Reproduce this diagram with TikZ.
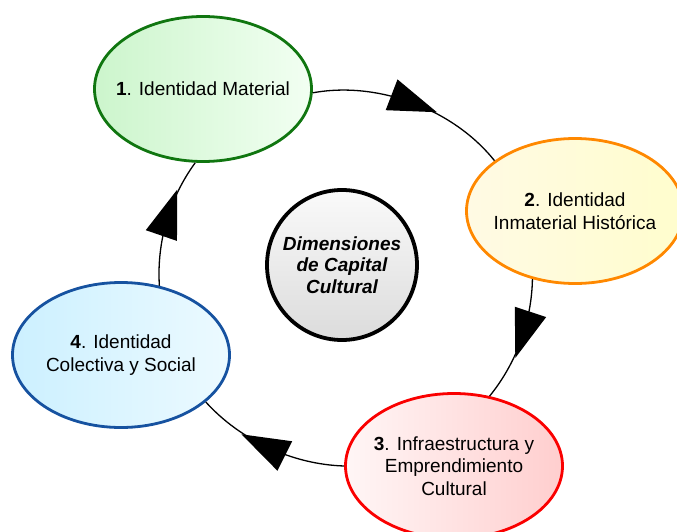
\documentclass[tikz,border=0pt]{standalone}
\usepackage{fontspec}
\setmainfont{Liberation Sans}
\usetikzlibrary{shapes,positioning,decorations.markings}

\definecolor{matline}{RGB}{16,118,16}
\definecolor{matfillA}{RGB}{204,245,204}
\definecolor{matfillB}{RGB}{242,255,242}
\definecolor{inmline}{RGB}{255,136,0}
\definecolor{inmfillA}{RGB}{255,250,228}
\definecolor{inmfillB}{RGB}{255,253,205}
\definecolor{infline}{RGB}{250,0,0}
\definecolor{inffillA}{RGB}{255,246,246}
\definecolor{inffillB}{RGB}{255,206,206}
\definecolor{colline}{RGB}{22,82,160}
\definecolor{colfillA}{RGB}{204,240,255}
\definecolor{colfillB}{RGB}{236,250,255}

\tikzset{
  dimension/.style={ellipse, draw, line width=2.8pt, minimum width=217pt,
                    minimum height=145pt, inner xsep=-16pt, inner ysep=0pt,
                    align=center},
  cycle arrow/.style={line width=1.3pt, looseness=.87, postaction={decorate},
                      decoration={markings, mark=at position #1 with
                      {\fill (24pt,0) -- (-24.5pt,16.5pt) -- (-24.5pt,-16.5pt) -- cycle;}}},
  cycle arrow/.default=.5
}

\begin{document}
\begin{tikzpicture}[x=1pt,y=-1pt,every node/.append style={
                    font=\fontsize{19}{22.5}\selectfont}]
    \useasboundingbox (0,0) rectangle (677,532);
    \node[circle, draw, line width=3.8pt, minimum size=150pt, inner sep=0pt,
          top color=gray!4, bottom color=gray!28, align=center,
          font=\fontsize{19}{21.5}\selectfont\bfseries\itshape]
          (core) at (342,265) {Dimensiones\\de Capital\\Cultural};
    \node[dimension, draw=matline, left color=matfillA, right color=matfillB]
          (e1) at (203,89) {\textbf{1}. Identidad Material};
    \node[dimension, draw=inmline, left color=inmfillA, right color=inmfillB]
          (e2) at (575,211) {\textbf{2}. Identidad\\Inmaterial Histórica};
    \node[dimension, draw=infline, left color=inffillA, right color=inffillB]
          (e3) at (454,466) {\textbf{3}. Infraestructura y\\Emprendimiento\\Cultural};
    \node[dimension, draw=colline, left color=colfillA, right color=colfillB]
          (e4) at (121,355) {\textbf{4}. Identidad\\Colectiva y Social};

    \draw[cycle arrow=.51] (e1.-2)  to[bend left=31] (e2.148);
    \draw[cycle arrow=.45] (e2.238) to[bend left=19] (e3.63);
    \draw[cycle arrow=.54] (e3.180) to[bend left=23] (e4.-29);
    \draw[cycle arrow=.57] (e4.61)  to[bend left=20] (e1.264);
\end{tikzpicture}
\end{document}
